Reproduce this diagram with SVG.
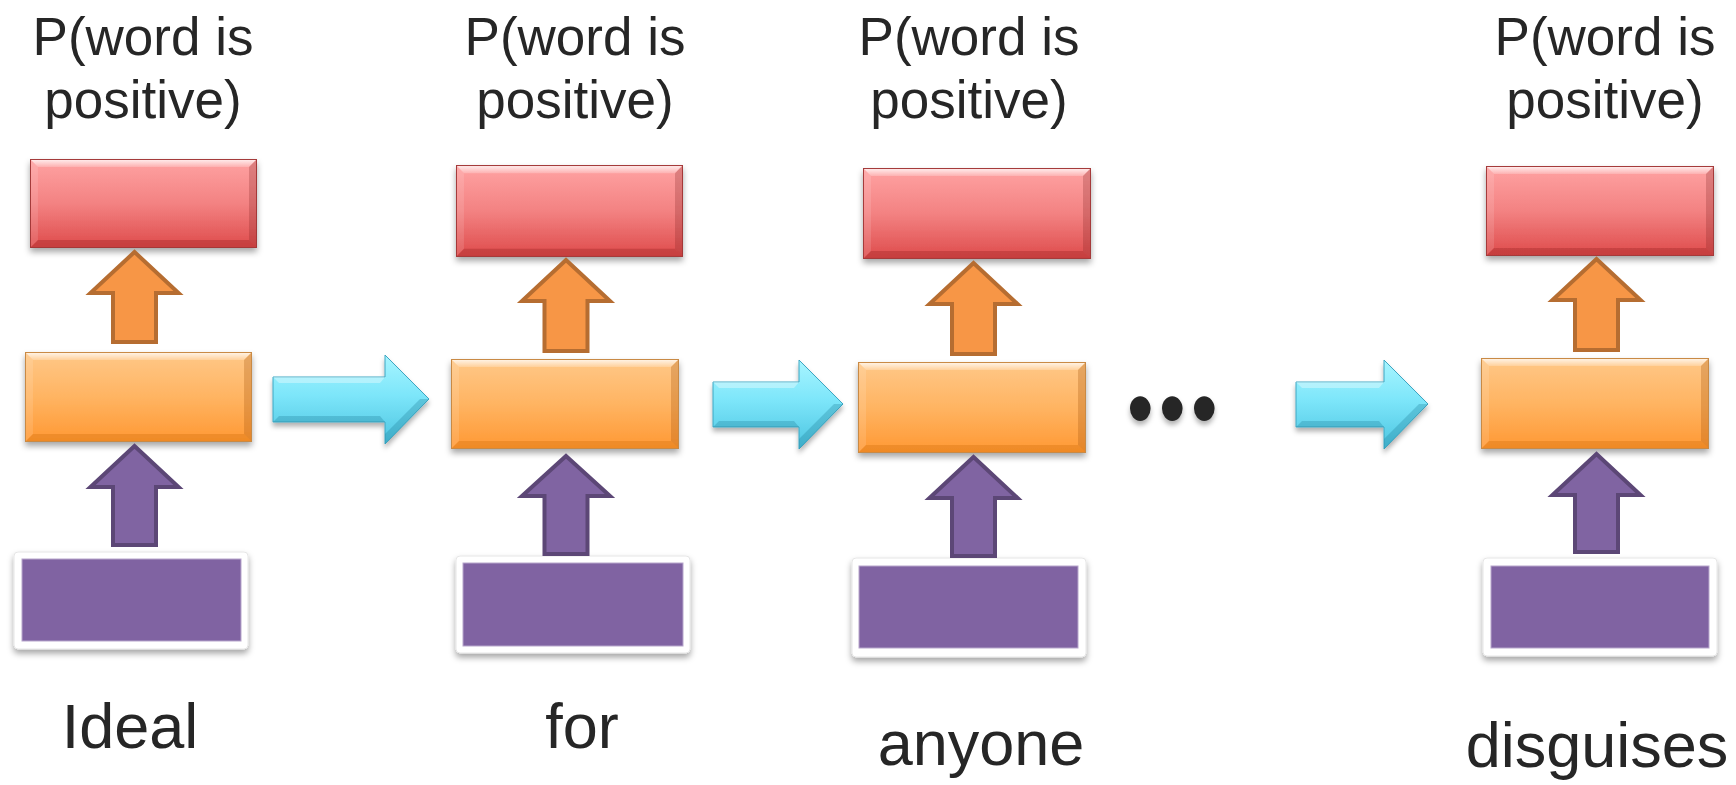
<svg xmlns="http://www.w3.org/2000/svg" xmlns:xlink="http://www.w3.org/1999/xlink" width="1736" height="785" viewBox="0 0 1736 785">
<style>
.lbl{font-family:"Liberation Sans",Arial,Helvetica,sans-serif;fill:#262626;text-anchor:middle}
.top{font-size:53px}
.word{font-size:63px}
.upO{fill:#f79646;stroke:#b66d31;stroke-width:4;stroke-linejoin:miter}
.upP{fill:#8064a2;stroke:#5c4776;stroke-width:4;stroke-linejoin:miter}
.right{fill:url(#cyanGrad);stroke:#3ea6c2;stroke-width:1}
.frame{fill:#ffffff;stroke:#e6e6e6;stroke-width:1}
.inner{fill:#8064a2;stroke:#b7a6cc;stroke-width:1}
</style>
<defs>
<filter id="sh" x="-10%" y="-10%" width="120%" height="135%">
<feDropShadow dx="0" dy="4" stdDeviation="3" flood-color="#000" flood-opacity="0.35"/>
</filter>
<filter id="shs" x="-20%" y="-20%" width="140%" height="160%">
<feDropShadow dx="0" dy="4" stdDeviation="2.5" flood-color="#000" flood-opacity="0.3"/>
</filter>
<linearGradient id="redGrad" x1="0" y1="0" x2="0" y2="1">
<stop offset="0" stop-color="#ffa3a3"/>
<stop offset="0.5" stop-color="#f38282"/>
<stop offset="1" stop-color="#de4b4b"/>
</linearGradient>
<linearGradient id="orGrad" x1="0" y1="0" x2="0" y2="1">
<stop offset="0" stop-color="#ffc888"/>
<stop offset="0.5" stop-color="#ffb462"/>
<stop offset="1" stop-color="#ff9833"/>
</linearGradient>
<linearGradient id="cyanGrad" x1="0" y1="0" x2="0" y2="1">
<stop offset="0" stop-color="#a8f5ff"/>
<stop offset="0.45" stop-color="#7de6fa"/>
<stop offset="1" stop-color="#4cc4e0"/>
</linearGradient>
<linearGradient id="hiTop" x1="0" y1="0" x2="0" y2="1">
<stop offset="0" stop-color="#fff" stop-opacity="0.85"/>
<stop offset="1" stop-color="#fff" stop-opacity="0.2"/>
</linearGradient>
<symbol id="redBox" viewBox="0 0 228 90" preserveAspectRatio="none">
<rect x="0" y="0" width="228" height="90" fill="url(#redGrad)"/>
<polygon points="0,0 228,0 220,8 8,8" fill="url(#hiTop)"/>
<polygon points="0,0 8,8 8,82 0,90" fill="#ffffff" fill-opacity="0.12"/>
<polygon points="228,0 228,90 220,82 220,8" fill="#7a1f1f" fill-opacity="0.25"/>
<polygon points="0,90 8,82 220,82 228,90" fill="#9a2525" fill-opacity="0.35"/>
<rect x="0.5" y="0.5" width="227" height="89" fill="none" stroke="#a53a3a" stroke-width="1"/>
</symbol>
<symbol id="orBox" viewBox="0 0 228 90" preserveAspectRatio="none">
<rect x="0" y="0" width="228" height="90" fill="url(#orGrad)"/>
<polygon points="0,0 228,0 220,8 8,8" fill="url(#hiTop)"/>
<polygon points="0,0 8,8 8,82 0,90" fill="#ffffff" fill-opacity="0.12"/>
<polygon points="228,0 228,90 220,82 220,8" fill="#a85a10" fill-opacity="0.3"/>
<polygon points="0,90 8,82 220,82 228,90" fill="#d0700f" fill-opacity="0.35"/>
<rect x="0.5" y="0.5" width="227" height="89" fill="none" stroke="#c98a45" stroke-width="1"/>
</symbol>
</defs>
<rect width="1736" height="785" fill="#ffffff"/>

<g id="output-labels">
<text class="lbl top" x="143" y="55">P(word is</text>
<text class="lbl top" x="143" y="118">positive)</text>
<text class="lbl top" x="575" y="55">P(word is</text>
<text class="lbl top" x="575" y="118">positive)</text>
<text class="lbl top" x="969" y="55">P(word is</text>
<text class="lbl top" x="969" y="118">positive)</text>
<text class="lbl top" x="1605" y="55">P(word is</text>
<text class="lbl top" x="1605" y="118">positive)</text>
</g>

<g id="out1"><use href="#redBox" x="30" y="159" width="227" height="89" filter="url(#sh)"/></g>
<g id="out2"><use href="#redBox" x="456" y="165" width="227" height="92" filter="url(#sh)"/></g>
<g id="out3"><use href="#redBox" x="863" y="168" width="228" height="91" filter="url(#sh)"/></g>
<g id="out4"><use href="#redBox" x="1486" y="166" width="228" height="90" filter="url(#sh)"/></g>

<g id="hid1"><use href="#orBox" x="25" y="352" width="227" height="90" filter="url(#sh)"/></g>
<g id="hid2"><use href="#orBox" x="451" y="359" width="228" height="90" filter="url(#sh)"/></g>
<g id="hid3"><use href="#orBox" x="858" y="362" width="228" height="91" filter="url(#sh)"/></g>
<g id="hid4"><use href="#orBox" x="1481" y="358" width="228" height="91" filter="url(#sh)"/></g>

<g id="in1" filter="url(#sh)"><rect class="frame" x="14" y="552" width="234" height="97" rx="4"/><rect class="inner" x="22" y="559" width="219" height="82"/></g>
<g id="in2" filter="url(#sh)"><rect class="frame" x="456" y="556" width="234" height="97" rx="4"/><rect class="inner" x="463" y="563" width="220" height="83"/></g>
<g id="in3" filter="url(#sh)"><rect class="frame" x="852" y="558" width="234" height="99" rx="4"/><rect class="inner" x="859" y="566" width="219" height="82"/></g>
<g id="in4" filter="url(#sh)"><rect class="frame" x="1483" y="558" width="234" height="98" rx="4"/><rect class="inner" x="1491" y="566" width="218" height="82"/></g>

<g id="connectors">
<path class="upO" d="M134.5,252 L178.5,293 L156,293 L156,342 L113,342 L113,293 L90.5,293 Z"/>
<path class="upO" d="M566,260 L610,301 L587.5,301 L587.5,351 L544.5,351 L544.5,301 L522,301 Z"/>
<path class="upO" d="M973.5,263 L1017.5,304 L995,304 L995,354 L952,354 L952,304 L929.5,304 Z"/>
<path class="upO" d="M1596.5,259 L1640.5,300 L1618,300 L1618,350 L1575,350 L1575,300 L1552.5,300 Z"/>
<path class="upP" d="M134.5,446 L178.5,487 L156,487 L156,545 L113,545 L113,487 L90.5,487 Z"/>
<path class="upP" d="M566,456 L610,496 L587.5,496 L587.5,554 L544.5,554 L544.5,496 L522,496 Z"/>
<path class="upP" d="M973.5,457 L1017.5,498 L995,498 L995,556 L952,556 L952,498 L929.5,498 Z"/>
<path class="upP" d="M1596.5,454 L1640.5,495 L1618,495 L1618,552 L1575,552 L1575,495 L1552.5,495 Z"/>
<g filter="url(#shs)">
<path class="right" d="M273,377 L385,377 L385,355 L429,399 L385,444 L385,422 L273,422 Z"/>
<path class="right" d="M713,382 L799,382 L799,360 L843,404 L799,449 L799,427 L713,427 Z"/>
<path class="right" d="M1296,382 L1384,382 L1384,360 L1428,404 L1384,449 L1384,427 L1296,427 Z"/>
</g>
<g fill="#ffffff" fill-opacity="0.35">
<path d="M273,377 L385,377 L380,383 L279,383 Z"/>
<path d="M713,382 L799,382 L794,388 L719,388 Z"/>
<path d="M1296,382 L1384,382 L1379,388 L1302,388 Z"/>
</g>
<g fill="#1f7f99" fill-opacity="0.3">
<path d="M273,422 L385,422 L380,416 L279,416 Z M385,444 L429,399 L420,399 L385,434 Z"/>
<path d="M713,427 L799,427 L794,421 L719,421 Z M799,449 L843,404 L834,404 L799,439 Z"/>
<path d="M1296,427 L1384,427 L1379,421 L1302,421 Z M1384,449 L1428,404 L1419,404 L1384,439 Z"/>
</g>
</g>

<g id="ellipsis" filter="url(#shs)">
<text class="lbl" x="1175" y="0" font-size="76" transform="translate(0,439) scale(1,1.2)" style="letter-spacing:5.4px">•••</text>
</g>

<g id="words">
<text class="lbl word" x="130" y="748">Ideal</text>
<text class="lbl word" x="582" y="748">for</text>
<text class="lbl word" x="981" y="765">anyone</text>
<text class="lbl word" x="1597" y="767">disguises</text>
</g>
</svg>
